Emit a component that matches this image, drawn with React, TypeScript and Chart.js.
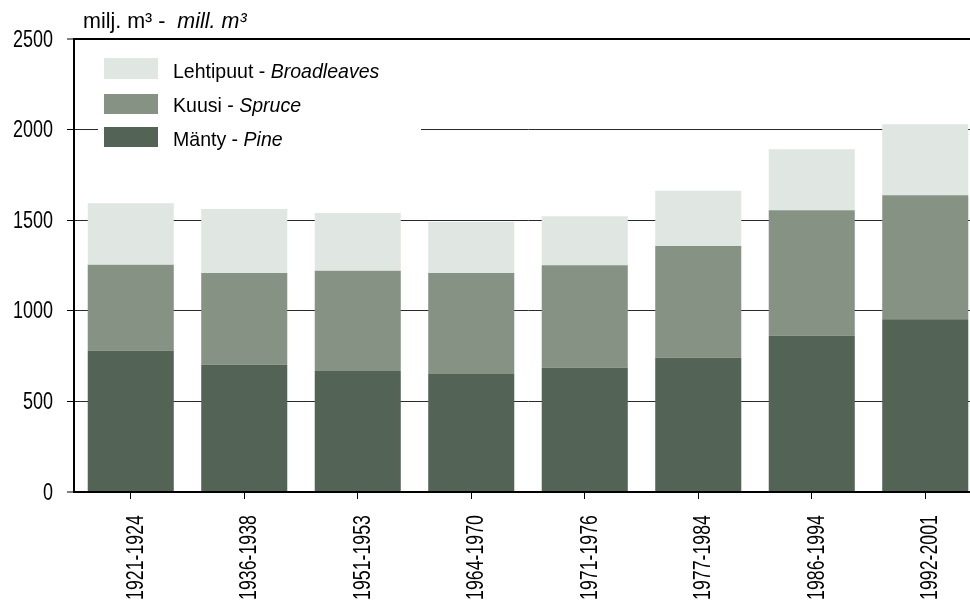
import React, { useEffect, useRef } from "react";
import { Chart, registerables } from "chart.js";

Chart.register(...registerables);

// ---- Data ----
const categories = [
  "1921-1924",
  "1936-1938",
  "1951-1953",
  "1964-1970",
  "1971-1976",
  "1977-1984",
  "1986-1994",
  "1992-2001",
];
const pine = [779, 702, 668, 651, 686, 741, 862, 954];
const spruce = [475, 507, 553, 557, 566, 616, 693, 684];
const broadleaves = [340, 353, 319, 283, 270, 305, 336, 391];
const yTickValues = [0, 500, 1000, 1500, 2000, 2500];
const yTickLabels = ["0", "500", "1000", "1500", "2000", "2500"];

const pineLabel = ["Mänty - ", "Pine"];
const spruceLabel = ["Kuusi - ", "Spruce"];
const broadLabel = ["Lehtipuut - ", "Broadleaves"];
const unitLabel = ["milj. m³ -  ", "mill. m³"];

const COLORS = {
  pine: "#536355",
  spruce: "#859284",
  broad: "#E0E6E2",
};

const FONT_FAMILY = '"Liberation Sans", Arial, sans-serif';

const CANVAS_W = 1000;
const CANVAS_H = 606;

function drawMixed(
  ctx: CanvasRenderingContext2D,
  x: number,
  y: number,
  parts: string[],
  size: number,
  sx: number
) {
  ctx.save();
  ctx.translate(x, y);
  ctx.scale(sx, 1);
  ctx.font = `${size}px ${FONT_FAMILY}`;
  ctx.fillText(parts[0], 0, 0);
  const w = ctx.measureText(parts[0]).width;
  ctx.font = `italic ${size}px ${FONT_FAMILY}`;
  ctx.fillText(parts[1], w, 0);
  ctx.restore();
}

const TICK_FONT = 24;
const TICK_SX = 0.75;

const overlayPlugin = {
  id: "overlay",
  afterDraw(chart: any) {
    const ctx: CanvasRenderingContext2D = chart.ctx;
    const xs = chart.scales.x;
    const ys = chart.scales.y;
    ctx.save();
    ctx.fillStyle = "#000";

    // y tick labels (condensed)
    ctx.font = `${TICK_FONT}px ${FONT_FAMILY}`;
    ctx.textAlign = "right";
    ctx.textBaseline = "middle";
    yTickValues.forEach((v, i) => {
      const py = ys.getPixelForValue(v);
      ctx.save();
      ctx.translate(53, py + 1);
      ctx.scale(TICK_SX, 1);
      ctx.fillText(yTickLabels[i], 0, 0);
      ctx.restore();
    });

    // x tick labels rotated, condensed
    ctx.textAlign = "right";
    ctx.textBaseline = "alphabetic";
    categories.forEach((c, i) => {
      const px = xs.getPixelForTick(i);
      ctx.save();
      ctx.translate(px + 12, 515);
      ctx.rotate(-Math.PI / 2);
      ctx.scale(0.74, 1);
      ctx.fillText(c, 0, 0);
      ctx.restore();
    });

    // legend white box
    ctx.fillStyle = "#ffffff";
    ctx.fillRect(98, 45, 323, 115);
    const rows = [
      { label: broadLabel, color: COLORS.broad, y: 58, h: 21, base: 78 },
      { label: spruceLabel, color: COLORS.spruce, y: 94, h: 20, base: 112 },
      { label: pineLabel, color: COLORS.pine, y: 127, h: 20, base: 146 },
    ];
    ctx.textAlign = "left";
    ctx.textBaseline = "alphabetic";
    for (const r of rows) {
      ctx.fillStyle = r.color;
      ctx.fillRect(104, r.y, 54, r.h);
      ctx.fillStyle = "#000";
      drawMixed(ctx, 173, r.base, r.label, 21, 0.93);
    }
    // unit label
    ctx.fillStyle = "#000";
    drawMixed(ctx, 83, 28, unitLabel, 21.5, 1);
    ctx.restore();
  },
};

export default function App() {
  const ref = useRef<HTMLCanvasElement | null>(null);

  useEffect(() => {
    if (!ref.current) return;
    const chart = new Chart(ref.current, {
      type: "bar",
      data: {
        labels: categories,
        datasets: [
          { label: pineLabel.join(""), data: pine, backgroundColor: COLORS.pine },
          { label: spruceLabel.join(""), data: spruce, backgroundColor: COLORS.spruce },
          { label: broadLabel.join(""), data: broadleaves, backgroundColor: COLORS.broad },
        ],
      },
      options: {
        responsive: false,
        animation: false,
        devicePixelRatio: 1,
        layout: { padding: { left: 0, top: 39, right: CANVAS_W - 982, bottom: 0 } },
        plugins: {
          legend: { display: false },
          tooltip: { enabled: false },
        },
        datasets: {
          bar: { categoryPercentage: 1, barPercentage: 0.758 },
        },
        scales: {
          x: {
            stacked: true,
            afterFit: (s: any) => {
              s.height = CANVAS_H - 492;
            },
            grid: {
              display: true,
              drawOnChartArea: false,
              drawTicks: true,
              tickLength: 7,
              offset: false,
              color: "#000",
              lineWidth: 1,
            },
            border: { display: true, color: "#000", width: 2 },
            ticks: { display: false, autoSkip: false },
          },
          y: {
            stacked: true,
            min: 0,
            max: 2500,
            afterFit: (s: any) => {
              s.width = 74;
            },
            afterBuildTicks: (s: any) => {
              s.ticks = yTickValues.map((v) => ({ value: v }));
            },
            grid: {
              drawTicks: true,
              tickLength: 7,
              color: (c: any) => (c.tick && c.tick.value === 2500 ? "#000" : "#2a2a2a"),
              lineWidth: (c: any) =>
                c.tick && (c.tick.value === 2500 || c.tick.value === 0) ? 2 : 1,
              tickColor: "#000",
              tickWidth: 1,
            },
            border: { display: true, color: "#000", width: 2 },
            ticks: { display: false },
          },
        },
      },
      plugins: [overlayPlugin],
    } as any);
    return () => chart.destroy();
  }, []);

  return (
    <div
      style={{
        position: "fixed",
        left: 0,
        top: 0,
        width: 970,
        height: 606,
        overflow: "hidden",
        background: "#fff",
      }}
    >
      <canvas
        ref={ref}
        width={CANVAS_W}
        height={CANVAS_H}
        style={{ width: CANVAS_W, height: CANVAS_H, display: "block" }}
      />
    </div>
  );
}
